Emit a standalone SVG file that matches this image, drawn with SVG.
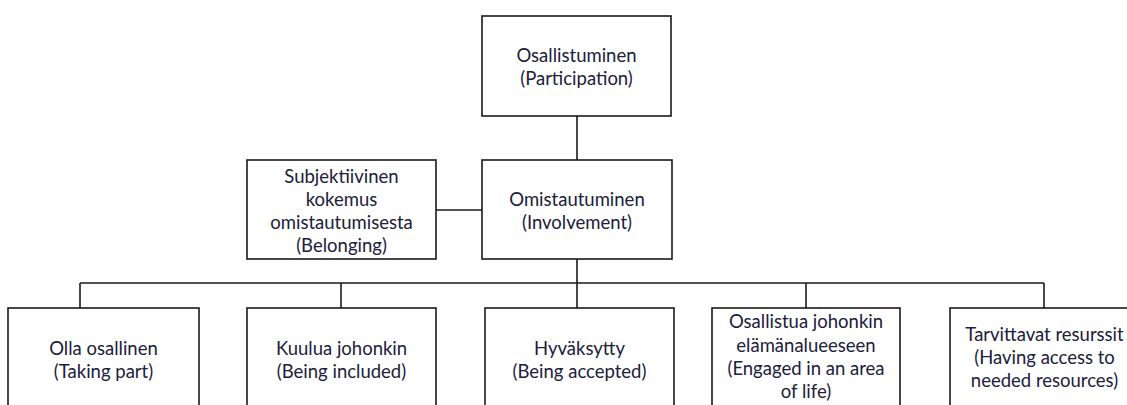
<svg xmlns="http://www.w3.org/2000/svg" width="1127" height="405" viewBox="0 0 1127 405">
<style>
.box{fill:#fff;stroke:#1a1a1a;stroke-width:1.6}
.ln{fill:none;stroke:#1a1a1a;stroke-width:1.6}
.t{font-family:Lato,"Liberation Sans",sans-serif;font-size:18.5px;fill:#20203a;text-anchor:middle}
</style>
<rect width="1127" height="405" fill="#fff"/>
<g id="connectors">
<line class="ln" x1="577" y1="116" x2="577" y2="160"/>
<line class="ln" x1="436" y1="210" x2="482" y2="210"/>
<line class="ln" x1="577" y1="259" x2="577" y2="283"/>
<line class="ln" x1="80" y1="283" x2="1044" y2="283"/>
<line class="ln" x1="80" y1="283" x2="80" y2="308"/>
<line class="ln" x1="341" y1="283" x2="341" y2="308"/>
<line class="ln" x1="577" y1="283" x2="577" y2="308"/>
<line class="ln" x1="806" y1="283" x2="806" y2="308"/>
<line class="ln" x1="1044" y1="283" x2="1044" y2="308"/>
</g>
<g id="participation">
<rect class="box" x="482" y="16" width="189" height="100"/>
<text class="t" x="576.5" y="62">Osallistuminen</text>
<text class="t" x="576.5" y="85">(Participation)</text>
</g>
<g id="belonging">
<rect class="box" x="247" y="160" width="189" height="99"/>
<text class="t" x="341.5" y="183">Subjektiivinen</text>
<text class="t" x="341.5" y="206">kokemus</text>
<text class="t" x="341.5" y="229">omistautumisesta</text>
<text class="t" x="341.5" y="252">(Belonging)</text>
</g>
<g id="involvement">
<rect class="box" x="482" y="160" width="190" height="99"/>
<text class="t" x="577" y="206">Omistautuminen</text>
<text class="t" x="577" y="229">(Involvement)</text>
</g>
<g id="taking-part">
<rect class="box" x="8" y="308" width="191" height="110"/>
<text class="t" x="103.5" y="355">Olla osallinen</text>
<text class="t" x="103.5" y="378">(Taking part)</text>
</g>
<g id="being-included">
<rect class="box" x="247" y="308" width="189" height="110"/>
<text class="t" x="341.5" y="355">Kuulua johonkin</text>
<text class="t" x="341.5" y="378">(Being included)</text>
</g>
<g id="being-accepted">
<rect class="box" x="485" y="308" width="189" height="110"/>
<text class="t" x="579.5" y="355">Hyväksytty</text>
<text class="t" x="579.5" y="378">(Being accepted)</text>
</g>
<g id="engaged">
<rect class="box" x="712" y="308" width="188" height="110"/>
<text class="t" x="806" y="328">Osallistua johonkin</text>
<text class="t" x="806" y="352">elämänalueeseen</text>
<text class="t" x="806" y="375">(Engaged in an area</text>
<text class="t" x="806" y="398">of life)</text>
</g>
<g id="resources">
<rect class="box" x="950" y="308" width="189" height="110"/>
<text class="t" x="1044.5" y="341">Tarvittavat resurssit</text>
<text class="t" x="1044.5" y="364">(Having access to</text>
<text class="t" x="1044.5" y="387">needed resources)</text>
</g>
</svg>
